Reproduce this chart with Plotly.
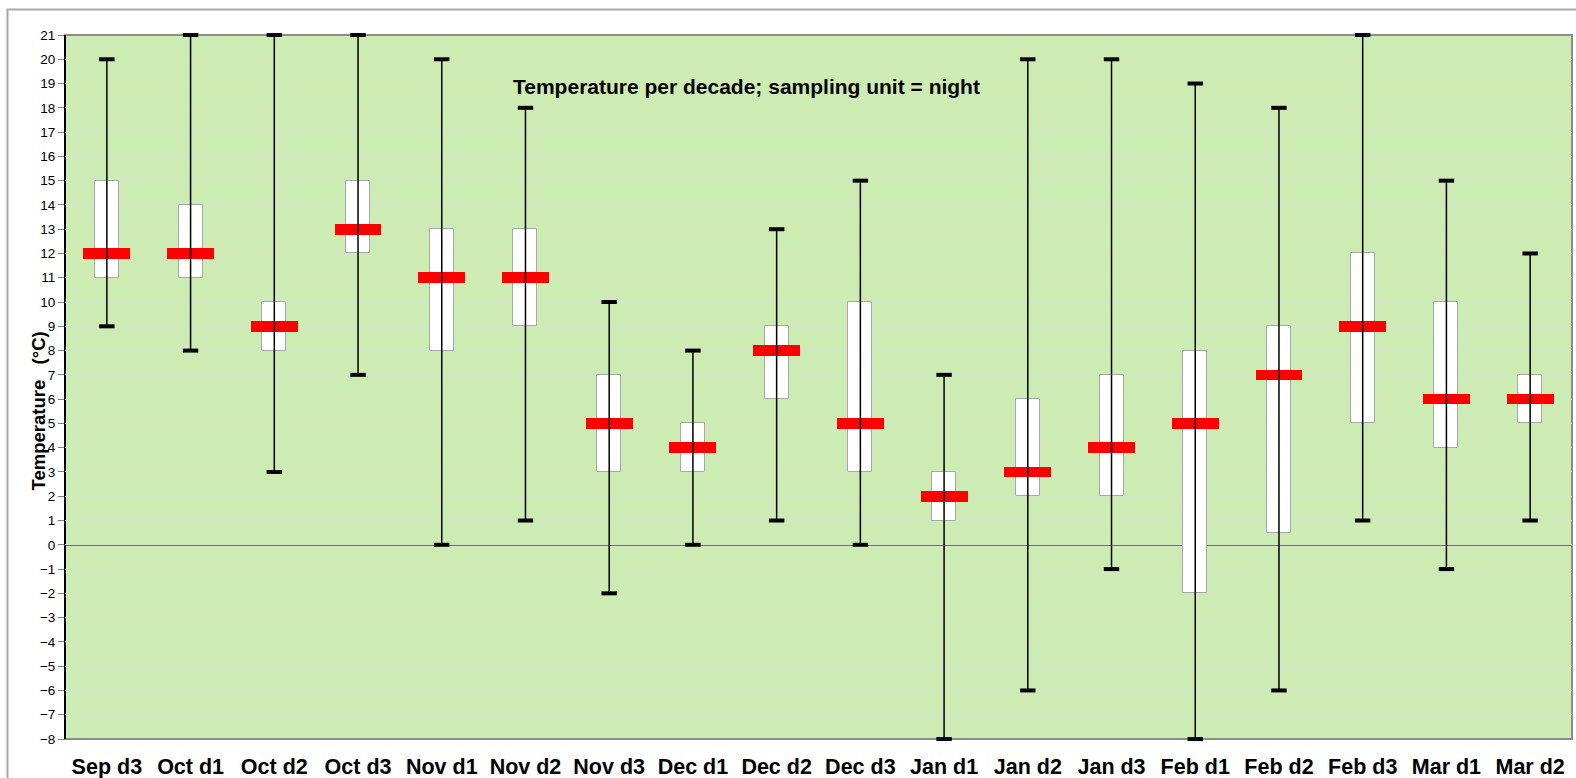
import plotly.graph_objects as go

categories = ["Sep d3", "Oct d1", "Oct d2", "Oct d3", "Nov d1", "Nov d2", "Nov d3", "Dec d1", "Dec d2",
              "Dec d3", "Jan d1", "Jan d2", "Jan d3", "Feb d1", "Feb d2", "Feb d3", "Mar d1", "Mar d2"]
t_min = [9, 8, 3, 7, 0, 1, -2, 0, 1, 0, -8, -6, -1, -8, -6, 1, -1, 1]
t_q1 = [11, 11, 8, 12, 8, 9, 3, 3, 6, 3, 1, 2, 2, -2, 0.5, 5, 4, 5]
t_med = [12, 12, 9, 13, 11, 11, 5, 4, 8, 5, 2, 3, 4, 5, 7, 9, 6, 6]
t_q3 = [15, 14, 10, 15, 13, 13, 7, 5, 9, 10, 3, 6, 7, 8, 9, 12, 10, 7]
t_max = [20, 21, 21, 21, 20, 18, 10, 8, 13, 15, 7, 20, 20, 19, 18, 21, 15, 12]
y_ticks = list(range(-8, 22))

xs = list(range(len(categories)))

FW, FH = 1576, 778
L, T, W, H = 65, 35, 1507, 704


def px(x):
    return (x - L) / W


def py(y):
    return (T + H - y) / H


fig = go.Figure()

# whiskers
wx, wy = [], []
for i in xs:
    wx += [i, i, None]
    wy += [t_min[i], t_max[i], None]
fig.add_trace(go.Scatter(x=wx, y=wy, mode="lines", line=dict(color="black", width=1.5),
                         hoverinfo="skip", showlegend=False, cliponaxis=False))
# caps
fig.add_trace(go.Scatter(x=xs + xs, y=t_min + t_max, mode="markers",
                         marker=dict(symbol="line-ew", size=11, line=dict(color="black", width=4)),
                         hoverinfo="skip", showlegend=False, cliponaxis=False))
# boxes
fig.add_trace(go.Bar(x=xs, base=t_q1, y=[b - a for a, b in zip(t_q1, t_q3)], width=0.287,
                     marker=dict(color="white", line=dict(color="#a8a8a8", width=1)),
                     showlegend=False))
# medians
fig.add_trace(go.Bar(x=xs, base=[m - 0.22 for m in t_med], y=[0.44] * len(xs), width=0.56,
                     marker=dict(color="#ff0000", line=dict(width=0)), showlegend=False))

# zero line
fig.add_shape(type="line", xref="paper", x0=0, x1=1, yref="y", y0=0, y1=0,
              line=dict(color="black", width=1.2), layer="below")

# plot border (gray) and left axis (black)
fig.add_shape(type="rect", xref="paper", yref="paper", x0=0, x1=1, y0=0, y1=1,
              line=dict(color="#8c8c8c", width=2), layer="below")
fig.add_shape(type="line", xref="paper", yref="paper", x0=0, x1=0, y0=0, y1=1,
              line=dict(color="black", width=2), layer="below")

# outer chart border
fig.add_shape(type="path", xref="paper", yref="paper",
              path=f"M {px(7.5)} {py(800)} L {px(7.5)} {py(9.5)} L {px(1600)} {py(9.5)}",
              line=dict(color="#a8a8a8", width=2))

fig.add_annotation(x=px(746), y=py(73), xref="paper", yref="paper",
                   text="<b>Temperature per decade; sampling unit = night</b>", showarrow=False,
                   font=dict(family="Liberation Sans, Arial", size=21, color="black"))

fig.add_annotation(x=px(25), y=py(411), xref="paper", yref="paper", textangle=-90,
                   text="<b>Temperature   (°C)</b>", showarrow=False,
                   font=dict(family="Liberation Sans, Arial", size=18.5, color="black"))

fig.update_layout(
    width=FW, height=FH,
    margin=dict(l=L, r=FW - L - W, t=T, b=FH - T - H, autoexpand=False),
    paper_bgcolor="white", plot_bgcolor="#cdecb3",
    barmode="overlay", bargap=0,
    font=dict(family="Liberation Sans, Arial", color="black"),
    xaxis=dict(range=[-0.5, len(categories) - 0.5], tickmode="array", tickvals=xs,
               ticktext=[f"<b>{c}</b>" for c in categories], tickfont=dict(size=21.5),
               showgrid=False, zeroline=False, showline=False, ticks="", ticklabelstandoff=12,
               automargin=False),
    yaxis=dict(range=[-8, 21], tickmode="array", tickvals=y_ticks, tickfont=dict(size=13.5),
               showgrid=True, gridcolor="#d6e3c9", gridwidth=1, zeroline=False,
               ticks="outside", ticklen=6, tickcolor="#808080", automargin=False),
)

fig.write_html("out.html", config={"displayModeBar": False},
               post_script="document.body.style.margin='0';document.body.style.overflow='hidden';")
